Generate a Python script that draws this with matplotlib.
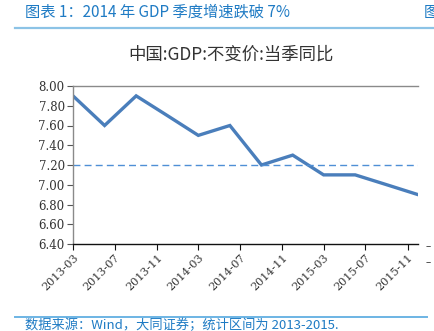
import matplotlib
matplotlib.use("Agg")
import matplotlib.pyplot as plt
import pandas as pd

plt.rcParams['font.family'] = ['Noto Sans CJK SC', 'DejaVu Sans']

quarters = ["2013-03", "2013-06", "2013-09", "2013-12",
            "2014-03", "2014-06", "2014-09", "2014-12",
            "2015-03", "2015-06", "2015-09", "2015-12"]
gdp_yoy = [7.9, 7.6, 7.9, 7.7, 7.5, 7.6, 7.2, 7.3, 7.1, 7.1, 7.0, 6.9]
ref_level = 7.2
yticks = [6.4, 6.6, 6.8, 7.0, 7.2, 7.4, 7.6, 7.8, 8.0]
xticks = ["2013-03", "2013-07", "2013-11", "2014-03", "2014-07",
          "2014-11", "2015-03", "2015-07", "2015-11"]

W, H = 435, 331
fig = plt.figure(figsize=(W / 100, H / 100), dpi=100)

blue_txt = "#1f7bc4"
fig.text(25 / W, 1 - 12 / H, "图表 1：2014 年 GDP 季度增速跌破 7%", color=blue_txt,
         fontsize=11, ha="left", va="center")
fig.text(424 / W, 1 - 12 / H, "图", color=blue_txt, fontsize=11, ha="left", va="center")
fig.add_artist(plt.Line2D([15 / W, 1], [1 - 28 / H] * 2, color="#8cc3e6", lw=1.6))
fig.add_artist(plt.Line2D([15 / W, 427 / W], [1 - 317 / H] * 2, color="#6cb4e4", lw=1.4))
fig.text(25 / W, 1 - 325 / H, "数据来源：Wind，大同证券；统计区间为 2013-2015.",
         color=blue_txt, fontsize=9.5, style="italic", ha="left", va="center")

fig.text(231 / W, 1 - 55 / H, "中国:GDP:不变价:当季同比", color="#333333",
         fontsize=12.5, ha="center", va="center")

ax = fig.add_axes([73 / W, 1 - 244 / H, (418 - 73) / W, (244 - 86) / H])
x = pd.to_datetime(quarters)
ax.plot(x, gdp_yoy, color="#4a7ebb", lw=2.4, solid_joinstyle="miter")
ax.axhline(ref_level, color="#4f8fd6", lw=1.0, ls=(0, (5, 3)))

ax.set_ylim(6.4, 8.0)
ax.set_yticks(yticks)
ax.set_yticklabels([f"{v:.2f}" for v in yticks], fontsize=8.5, color="#333333",
                   family="DejaVu Serif")
ax.set_xlim(pd.Timestamp("2013-03-01"), pd.Timestamp("2015-12-01"))
ax.set_xticks(pd.to_datetime(xticks))
ax.set_xticklabels(xticks, rotation=45, ha="right", rotation_mode="anchor",
                   fontsize=8, color="#333333", family="DejaVu Serif")

ax.spines["right"].set_visible(False)
ax.spines["top"].set_color("#8a8a8a")
ax.spines["left"].set_color("#8a8a8a")
ax.spines["bottom"].set_color("#111111")
for s in ax.spines.values():
    s.set_linewidth(1.0)
ax.tick_params(axis="y", length=4, width=0.8, color="#555555", pad=2)
ax.tick_params(axis="x", length=4, width=0.8, color="#111111", pad=2)

# edge of the neighbouring chart
fig.text(426 / W, 1 - 247 / H, "–", color="#333333", fontsize=7, va="center")
fig.text(426 / W, 1 - 263 / H, "–", color="#333333", fontsize=7, va="center")

fig.savefig("out.png", dpi=100)
